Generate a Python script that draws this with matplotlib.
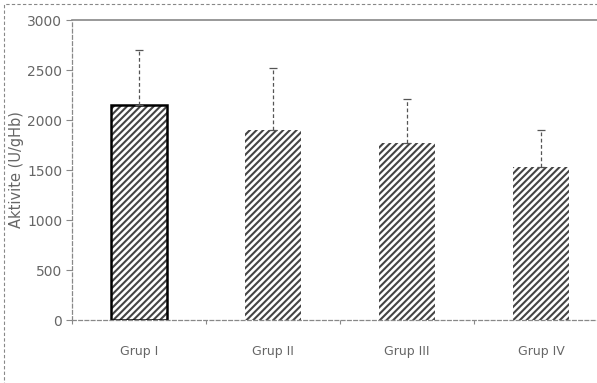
import matplotlib
matplotlib.use("Agg")
import matplotlib.pyplot as plt
from matplotlib.patches import Rectangle

groups = ["Grup I", "Grup II", "Grup III", "Grup IV"]
means = [2150, 1900, 1770, 1530]
sds = [550, 620, 440, 370]
yticks = [0, 500, 1000, 1500, 2000, 2500, 3000]

plt.rcParams["hatch.linewidth"] = 1.5

fig = plt.figure(figsize=(5.97, 3.83), dpi=100)
W, H = 597, 383

# dashed frame around the whole chart (cut off right / bottom)
fig.patches.append(Rectangle((4 / W, -0.1), 1.2, 1 - 4 / H + 0.1, transform=fig.transFigure,
                             fill=False, ls=(0, (3, 2)), lw=0.8, ec="#888888"))

ax = fig.add_axes([72 / W, (H - 320) / H, 536 / W, 300 / H])
x = list(range(len(groups)))
ax.bar(x, means, width=0.42, color="white", hatch="/////", edgecolor="#444444", linewidth=0)
# only the first bar has a solid black outline
ax.bar(x[0], means[0], width=0.42, fill=False, edgecolor="black", linewidth=1.8)

eb = ax.errorbar(x, means, yerr=[[0] * len(sds), sds], fmt="none", ecolor="#555555",
                 elinewidth=0.9, capsize=3, capthick=0.9)
for lc in eb[2]:
    lc.set_linestyle((0, (3, 2)))

ax.set_xlim(-0.5, 3.5)
ax.set_ylim(0, 3000)
ax.set_yticks(yticks)
ax.set_xticks(x)
ax.set_xticklabels(groups)
ax.set_xticks([-0.5, 0.5, 1.5, 2.5], minor=True)
ax.tick_params(axis="x", which="major", length=0, pad=18, labelsize=9, labelcolor="#666666")
ax.tick_params(axis="x", which="minor", length=3, color="#888888", width=0.8)
ax.tick_params(axis="y", length=4, color="#888888", width=0.8, labelsize=10, labelcolor="#666666", pad=3)

ax.set_ylabel("Aktivite (U/gHb)", fontsize=10.5, color="#666666", labelpad=2)

for side in ["left", "bottom"]:
    ax.spines[side].set_linestyle((0, (3, 2)))
    ax.spines[side].set_color("#888888")
    ax.spines[side].set_linewidth(0.9)
ax.spines["top"].set_color("#888888")
ax.spines["top"].set_linewidth(1.2)
ax.spines["right"].set_visible(False)

fig.savefig("out.png", dpi=100)
